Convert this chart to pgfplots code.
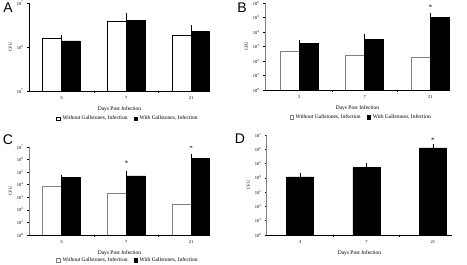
\documentclass[border=0pt]{standalone}
\usepackage{pgfplots}
\pgfplotsset{compat=1.18}
\usepackage{fontspec}
\setmainfont{Liberation Serif}
\newfontfamily\lettfont{Liberation Sans}
\pgfplotsset{
  every axis/.append style={
    scale only axis, anchor=south west,
    axis lines*=left,
    axis line style={black, line width=0.6pt},
    xtick={0.5,1.5}, xticklabels={},
    extra x ticks={0,1,2}, extra x tick labels={3,7,21},
    extra x tick style={tick style={draw=none}},
    tick align=outside, major tick length=2pt,
    tick style={black, line width=0.5pt},
    xlabel={Days Post Infection},
    xlabel style={font=\fontsize{5.5}{6}\selectfont, yshift=2pt},
    ylabel={CFU},
    ylabel style={font=\fontsize{4.5}{5}\selectfont, yshift=-2pt},
    legend style={draw=none, fill=none, font=\fontsize{5.5}{6}\selectfont,
      legend columns=2, inner sep=0pt},
  },
  every tick label/.append style={font=\fontsize{4.5}{5}\selectfont},
}
\tikzset{
  every even column/.append style={column sep=4pt},
}
\begin{document}
\begin{tikzpicture}
\useasboundingbox (0,0) rectangle (467pt,265pt);
% Panel A
\begin{axis}[at={(29pt,174pt)}, width=181pt, height=88pt,
  ymode=log, log basis y=10, yminorticks=false,
  xmin=-0.5, xmax=2.29, ymin=1e5, ymax=1e7,
  ytick={1e5,1e6,1e7}, yticklabels={10\textsuperscript{5},10\textsuperscript{6},10\textsuperscript{7}},
  legend image code/.code={\draw[#1] (0pt,-1.8pt) rectangle (3.6pt,1.8pt);},
  legend style={at={(0.547,-0.26)}, anchor=north}]
\addplot[ybar, bar width=0.29, bar shift=-0.145, fill=white, draw=black, line width=0.5pt,
  error bars/.cd, y dir=plus, y explicit, error bar style={black, line width=0.5pt}, error mark options={black, line width=0.5pt, mark size=1.5pt}]
  coordinates {(0,1.55e6) +- (0,0.2e6) (1,3.85e6) +- (0,1.25e6) (2,1.85e6) +- (0,0.65e6)};
\addlegendentry{Without Gallstones, Infection}
\addplot[ybar, bar width=0.29, bar shift=0.145, fill=black, draw=black, line width=0.5pt,
  error bars/.cd, y dir=plus, y explicit, error bar style={black, line width=0.5pt}, error mark options={black, line width=0.5pt, mark size=1.5pt}]
  coordinates {(0,1.37e6) +- (0,0.13e6) (1,4.0e6) +- (0,1.4e6) (2,2.28e6) +- (0,0.58e6)};
\addlegendentry{With Gallstones, Infection}
\end{axis}
% Panel B
\begin{axis}[at={(265pt,175pt)}, width=185pt, height=87pt,
  ymode=log, log basis y=10, yminorticks=false,
  xmin=-0.52, xmax=2.3, ymin=1, ymax=1e6,
  y axis line style={gray, line width=1pt},
  ytick={1,1e1,1e2,1e3,1e4,1e5,1e6},
  yticklabels={10\textsuperscript{0},10\textsuperscript{1},10\textsuperscript{2},10\textsuperscript{3},10\textsuperscript{4},10\textsuperscript{5},10\textsuperscript{6}},
  legend image code/.code={\draw[#1] (0pt,-1.8pt) rectangle (3.6pt,1.8pt);},
  legend style={at={(0.52,-0.26)}, anchor=north}]
\addplot[ybar, bar width=0.29, bar shift=-0.145, fill=white, draw=gray, line width=0.5pt,
  error bars/.cd, y dir=plus, y explicit, error bar style={black, line width=0.5pt}, error mark options={black, line width=0.5pt, mark size=1.5pt}]
  coordinates {(0,447) +- (0,115) (1,240) +- (0,207) (2,186) +- (0,96)};
\addlegendentry{Without Gallstones, Infection}
\addplot[ybar, bar width=0.29, bar shift=0.145, fill=black, draw=black, line width=0.5pt,
  error bars/.cd, y dir=plus, y explicit, error bar style={black, line width=0.5pt}, error mark options={black, line width=0.5pt, mark size=1.5pt}]
  coordinates {(0,1585) +- (0,603) (1,3162) +- (0,2461) (2,97700) +- (0,76100)};
\addlegendentry{With Gallstones, Infection}
\node[font=\fontsize{7}{7}\selectfont, inner sep=0pt] at (axis cs:2,5.3e5) {*};
\end{axis}
% Panel C
\begin{axis}[at={(29pt,30pt)}, width=181pt, height=88pt,
  ymode=log, log basis y=10, yminorticks=false,
  xmin=-0.5, xmax=2.29, ymin=1, ymax=1e7,
  y axis line style={gray, line width=1pt},
  ytick={1,1e1,1e2,1e3,1e4,1e5,1e6,1e7},
  yticklabels={10\textsuperscript{0},10\textsuperscript{1},10\textsuperscript{2},10\textsuperscript{3},10\textsuperscript{4},10\textsuperscript{5},10\textsuperscript{6},10\textsuperscript{7}},
  legend image code/.code={\draw[#1] (0pt,-1.8pt) rectangle (3.6pt,1.8pt);},
  legend style={at={(0.547,-0.23)}, anchor=north}]
\addplot[ybar, bar width=0.29, bar shift=-0.145, fill=white, draw=gray, line width=0.5pt,
  error bars/.cd, y dir=plus, y explicit, error bar style={black, line width=0.5pt}, error mark options={black, line width=0.5pt, mark size=1.5pt}]
  coordinates {(0,7586) +- (0,9000) (1,1995) +- (0,2576) (2,269) +- (0,334)};
\addlegendentry{Without Gallstones, Infection}
\addplot[ybar, bar width=0.29, bar shift=0.145, fill=black, draw=black, line width=0.5pt,
  error bars/.cd, y dir=plus, y explicit, error bar style={black, line width=0.5pt}, error mark options={black, line width=0.5pt, mark size=1.5pt}]
  coordinates {(0,39800) +- (0,8100) (1,50100) +- (0,39000) (2,1.26e6) +- (0,0.78e6)};
\addlegendentry{With Gallstones, Infection}
\node[font=\fontsize{7}{7}\selectfont, inner sep=0pt] at (axis cs:1,5.4e5) {*};
\node[font=\fontsize{7}{7}\selectfont, inner sep=0pt] at (axis cs:2,8e6) {*};
\end{axis}
% Panel D
\begin{axis}[at={(267pt,30pt)}, width=185pt, height=100pt,
  ymode=log, log basis y=10, yminorticks=false,
  xmin=-0.5, xmax=2.29, ymin=1, ymax=1e7,
  y axis line style={gray, line width=1pt},
  ytick={1,1e1,1e2,1e3,1e4,1e5,1e6,1e7},
  yticklabels={10\textsuperscript{0},10\textsuperscript{1},10\textsuperscript{2},10\textsuperscript{3},10\textsuperscript{4},10\textsuperscript{5},10\textsuperscript{6},10\textsuperscript{7}}]
\addplot[ybar, bar width=0.41, fill=black, draw=black, line width=0.5pt,
  error bars/.cd, y dir=plus, y explicit, error bar style={black, line width=0.5pt}, error mark options={black, line width=0.5pt, mark size=1.5pt}]
  coordinates {(0,11700) +- (0,6500) (1,52500) +- (0,36600) (2,1.26e6) +- (0,0.44e6)};
\node[font=\fontsize{7}{7}\selectfont, inner sep=0pt] at (axis cs:2,4.5e6) {*};
\end{axis}
\node[font=\lettfont\fontsize{14}{14}\selectfont] at (8pt,257pt) {A};
\node[font=\lettfont\fontsize{14}{14}\selectfont] at (242pt,257pt) {B};
\node[font=\lettfont\fontsize{14}{14}\selectfont] at (8pt,125pt) {C};
\node[font=\lettfont\fontsize{14}{14}\selectfont] at (240pt,126pt) {D};
\end{tikzpicture}
\end{document}
